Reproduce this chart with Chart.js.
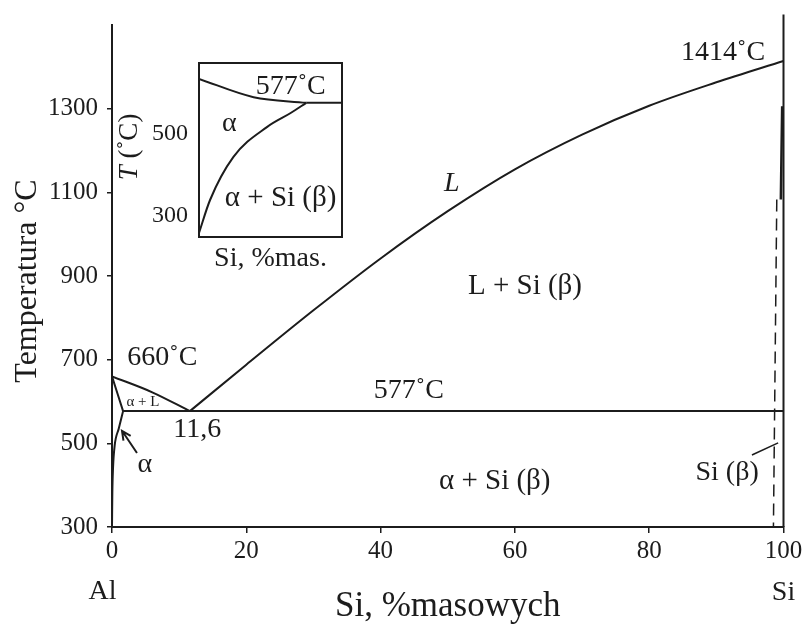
<!DOCTYPE html>
<html>
<head>
<meta charset="utf-8">
<title>Al–Si</title>
<script src="https://cdn.jsdelivr.net/npm/chart.js@4.4.1/dist/chart.umd.min.js"></script>
<style>
  html, body { margin: 0; padding: 0; background: #fff; }
  #wrap { position: relative; width: 803px; height: 628px; }
  #main { position: absolute; left: 0; top: 0; }
  #inset { position: absolute; left: 115px; top: 50px; }
</style>
</head>
<body>
<div id="wrap">
  <canvas id="main" width="803" height="628"></canvas>
  <canvas id="inset" width="240" height="230"></canvas>
</div>
<script>
// ---- Al–Si equilibrium diagram: characteristic points ----
const AL_MELT = 660;      // ˚C, pure Al
const SI_MELT = 1414;     // ˚C, pure Si
const EUTECTIC_T = 577;   // ˚C
const EUTECTIC_X = 11.6;  // % Si
const ALPHA_MAX = 1.65;   // max. solubility of Si in Al, % Si

// axis ticks
const xTicks = [0, 20, 40, 60, 80, 100];
const yTicks = [300, 500, 700, 900, 1100, 1300];
const insetYTicks = [300, 500];

// boundary lines, [% Si, ˚C]
const liquidusAl = [[0, AL_MELT], [6, 622], [EUTECTIC_X, EUTECTIC_T]];
const liquidusSi = [[EUTECTIC_X, EUTECTIC_T], [20, 688], [30, 818], [40, 942], [50, 1055],
                    [60, 1155], [70, 1238], [80, 1307], [90, 1363], [100, SI_MELT]];
const solidusAl = [[0, AL_MELT], [ALPHA_MAX, EUTECTIC_T]];
const solvusAl = [[ALPHA_MAX, EUTECTIC_T], [1.0, 535], [0.4, 495], [0.15, 440], [0.05, 380], [0, 300]];
const eutecticLine = [[ALPHA_MAX, EUTECTIC_T], [100, EUTECTIC_T]];
const siSide = [[100, 300], [100, 1525]];
const solidusSi = [[99.8, 1306], [99.6, 1083]];
const solvusSi = [[99.0, 1083], [98.5, 300]];
const siLeader = [[95.3, 472], [99.2, 501]];
const alphaArrow = [[3.72, 477], [1.49, 530]];

// inset: Si solubility in α
const insetSolidus = [[0, 636], [0.84, 591], [ALPHA_MAX, EUTECTIC_T]];
const insetSolvus = [[0, 257], [0.17, 338], [0.53, 444], [1.05, 518], [1.41, 552], [ALPHA_MAX, EUTECTIC_T]];
const insetEutectic = [[ALPHA_MAX, EUTECTIC_T], [2.2, EUTECTIC_T]];

const INK = '#1c1c1c';
const SERIF = '"Liberation Serif", "DejaVu Serif", serif';
const pts = a => a.map(([x, y]) => ({ x, y }));
const deg = t => t + '˚C';

function line(data, extra) {
  return Object.assign({
    data: pts(data), showLine: true, borderColor: INK, borderWidth: 2,
    pointRadius: 0, fill: false, cubicInterpolationMode: 'monotone'
  }, extra || {});
}

// text placed in data coordinates
const mainLabels = [
  { t: deg(AL_MELT), x: 7.5, y: 706, size: 28 },
  { t: 'α + L', x: 4.6, y: 599, size: 15 },
  { t: String(EUTECTIC_X).replace('.', ','), x: 12.7, y: 532, size: 28 },
  { t: 'α', x: 4.9, y: 448, size: 28 },
  { t: deg(EUTECTIC_T), x: 44.2, y: 627, size: 28 },
  { t: 'L', x: 50.6, y: 1120, size: 28, italic: true },
  { t: 'L + Si (β)', x: 61.5, y: 874, size: 29 },
  { t: 'α + Si (β)', x: 57.0, y: 408, size: 29 },
  { t: 'Si (β)', x: 91.6, y: 429, size: 28 },
  { t: deg(SI_MELT), x: 91, y: 1435, size: 28 },
  { t: 'Al', x: -1.4, y: 145, size: 28 },
  { t: 'Si', x: 100, y: 142, size: 28 }
];
const insetLabels = [
  { t: deg(EUTECTIC_T), x: 1.41, y: 618, size: 28 },
  { t: 'α', x: 0.465, y: 527, size: 28 },
  { t: 'α + Si (β)', x: 1.256, y: 343, size: 29 }
];

function drawLabels(chart, list) {
  const { ctx, scales: { x, y } } = chart;
  ctx.save();
  ctx.fillStyle = INK;
  ctx.textAlign = 'center';
  ctx.textBaseline = 'middle';
  list.forEach(l => {
    ctx.font = (l.italic ? 'italic ' : '') + l.size + 'px ' + SERIF;
    ctx.fillText(l.t, x.getPixelForValue(l.x), y.getPixelForValue(l.y));
  });
  ctx.restore();
}

const mainDecor = {
  id: 'mainDecor',
  afterDatasetsDraw(chart) {
    const { ctx, scales: { x, y } } = chart;
    // arrow pointing at the α field
    const [a, b] = alphaArrow;
    const x0 = x.getPixelForValue(a[0]), y0 = y.getPixelForValue(a[1]);
    const x1 = x.getPixelForValue(b[0]), y1 = y.getPixelForValue(b[1]);
    const ang = Math.atan2(y1 - y0, x1 - x0);
    ctx.save();
    ctx.strokeStyle = INK;
    ctx.lineWidth = 2;
    ctx.beginPath();
    ctx.moveTo(x0, y0); ctx.lineTo(x1, y1);
    ctx.moveTo(x1 - 10 * Math.cos(ang - 0.45), y1 - 10 * Math.sin(ang - 0.45));
    ctx.lineTo(x1, y1);
    ctx.lineTo(x1 - 10 * Math.cos(ang + 0.45), y1 - 10 * Math.sin(ang + 0.45));
    ctx.stroke();
    ctx.restore();
  },
  afterDraw(chart) {
    drawLabels(chart, mainLabels);
    const { ctx, chartArea: ca } = chart;
    ctx.save();
    ctx.fillStyle = INK;
    ctx.textAlign = 'center';
    ctx.textBaseline = 'middle';
    ctx.font = '35px ' + SERIF;
    ctx.fillText('Si, %masowych', (ca.left + ca.right) / 2, ca.bottom + 80);
    ctx.font = '32px ' + SERIF;
    ctx.translate(28, (ca.top + ca.bottom) / 2 + 5);
    ctx.rotate(-Math.PI / 2);
    ctx.fillText('Temperatura °C', 0, 0);
    ctx.restore();
  }
};

const axisFont = { family: SERIF, size: 25 };
const plain = v => String(v);

new Chart(document.getElementById('main'), {
  type: 'scatter',
  data: {
    datasets: [
      line(liquidusAl),
      line(liquidusSi),
      line(solidusAl),
      line(solvusAl),
      line(eutecticLine),
      line(siSide, { clip: false }),
      line(solidusSi, { borderWidth: 2.5 }),
      line(solvusSi, { borderWidth: 1.5, borderDash: [12, 7] }),
      line(siLeader, { borderWidth: 1.5 })
    ]
  },
  options: {
    responsive: false,
    animation: false,
    events: [],
    layout: { padding: { top: 25, right: 19.5, left: 0, bottom: 0 } },
    plugins: { legend: { display: false }, tooltip: { enabled: false } },
    scales: {
      x: {
        type: 'linear', min: 0, max: 100,
        afterBuildTicks: s => { s.ticks = xTicks.map(v => ({ value: v })); },
        afterFit: s => { s.height = 101; s.paddingLeft = 0; s.paddingRight = 0; },
        ticks: { font: axisFont, color: INK, padding: 3, callback: plain },
        grid: { drawOnChartArea: false, drawTicks: true, tickLength: 6, color: INK, lineWidth: 1.5 },
        border: { color: INK, width: 2 }
      },
      y: {
        type: 'linear', min: 300, max: 1500,
        afterBuildTicks: s => { s.ticks = yTicks.map(v => ({ value: v })); },
        afterFit: s => { s.width = 112; s.paddingTop = 0; s.paddingBottom = 0; },
        ticks: { font: axisFont, color: INK, padding: 9, callback: plain },
        grid: { drawOnChartArea: false, drawTicks: true, tickLength: 5, color: INK, lineWidth: 1.5 },
        border: { color: INK, width: 2 }
      }
    }
  },
  plugins: [mainDecor]
});

const insetDecor = {
  id: 'insetDecor',
  afterDraw(chart) {
    const { ctx, chartArea: ca } = chart;
    ctx.save();
    ctx.strokeStyle = INK;
    ctx.lineWidth = 2;
    ctx.strokeRect(ca.left, ca.top, ca.right - ca.left, ca.bottom - ca.top);
    ctx.fillStyle = INK;
    ctx.textAlign = 'center';
    ctx.textBaseline = 'middle';
    ctx.font = '28px ' + SERIF;
    ctx.fillText('Si, %mas.', (ca.left + ca.right) / 2, ca.bottom + 22);
    // rotated axis title: italic T followed by the unit
    ctx.translate(15, 97);
    ctx.rotate(-Math.PI / 2);
    ctx.font = 'italic 27px ' + SERIF;
    const tW = ctx.measureText('T').width;
    ctx.font = '27px ' + SERIF;
    const uW = ctx.measureText(' (˚C)').width;
    ctx.textAlign = 'left';
    ctx.font = 'italic 27px ' + SERIF;
    ctx.fillText('T', -(tW + uW) / 2, 0);
    ctx.font = '27px ' + SERIF;
    ctx.fillText(' (˚C)', -(tW + uW) / 2 + tW, 0);
    ctx.restore();
    drawLabels(chart, insetLabels);
  }
};

new Chart(document.getElementById('inset'), {
  type: 'scatter',
  data: {
    datasets: [
      line(insetSolidus),
      line(insetSolvus),
      line(insetEutectic)
    ]
  },
  options: {
    responsive: false,
    animation: false,
    events: [],
    layout: { padding: { top: 13, right: 13, left: 0, bottom: 0 } },
    plugins: { legend: { display: false }, tooltip: { enabled: false } },
    scales: {
      x: {
        type: 'linear', min: 0, max: 2.2,
        afterFit: s => { s.height = 43; s.paddingLeft = 0; s.paddingRight = 0; },
        ticks: { display: false },
        grid: { display: false },
        border: { display: false }
      },
      y: {
        type: 'linear', min: 247, max: 675,
        afterBuildTicks: s => { s.ticks = insetYTicks.map(v => ({ value: v })); },
        afterFit: s => { s.width = 84; s.paddingTop = 0; s.paddingBottom = 0; },
        ticks: { font: { family: SERIF, size: 24 }, color: INK, padding: 11, callback: plain },
        grid: { display: false, drawTicks: false },
        border: { display: false }
      }
    }
  },
  plugins: [insetDecor]
});
</script>
</body>
</html>
